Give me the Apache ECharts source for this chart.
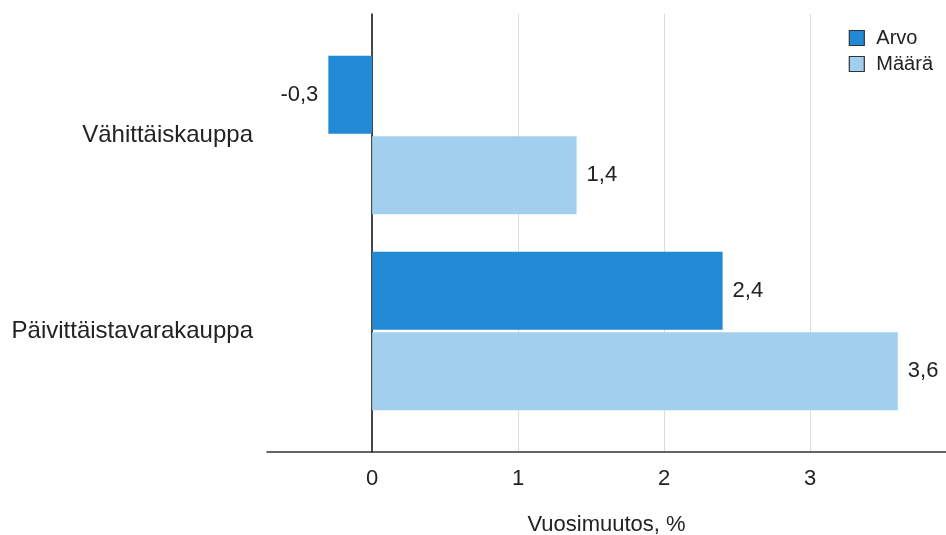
<!DOCTYPE html>
<html>
<head>
<meta charset="utf-8">
<script src="https://cdn.jsdelivr.net/npm/echarts@6/dist/echarts.min.js"></script>
<style>
html,body{margin:0;padding:0;background:#fff;}
#chart{width:946px;height:535px;}
</style>
</head>
<body>
<div id="chart"></div>
<script>
const categories = ['Vähittäiskauppa', 'Päivittäistavarakauppa'];
const seriesNames = ['Arvo', 'Määrä'];
const arvo = [-0.3, 2.4];
const maara = [1.4, 3.6];
const xTickValues = [0, 1, 2, 3];
const axisTitle = 'Vuosimuutos, %';

const FONT = 'Liberation Sans, Arial, sans-serif';
const X_MIN = -0.72, X_MAX = 3.93;
const colors = ['#228ad4', '#a3cfee'];

function fmt(v) { return v.toFixed(1).replace('.', ','); }
function mkData(arr) {
  return arr.map(v => ({ value: v, label: { position: v < 0 ? 'left' : 'right' } }));
}

const chart = echarts.init(document.getElementById('chart'), null, { renderer: 'canvas' });
chart.setOption({
  animation: false,
  backgroundColor: '#fff',
  textStyle: { fontFamily: FONT },
  legend: {
    data: seriesNames,
    orient: 'vertical',
    right: 13,
    top: 28,
    padding: 0,
    itemWidth: 15,
    itemHeight: 15,
    itemGap: 6,
    icon: 'rect',
    itemStyle: { borderColor: '#333', borderWidth: 1.2 },
    textStyle: { fontSize: 20, color: '#222', fontFamily: FONT, padding: [0, 0, 0, 7] }
  },
  grid: [
    { left: 267, right: 0, top: 14, bottom: 83, containLabel: false, outerBoundsMode: 'none' },
    { left: 267, right: 0, top: 37, bottom: 106, containLabel: false, outerBoundsMode: 'none' }
  ],
  xAxis: [
    {
      gridIndex: 0,
      type: 'value',
      min: X_MIN,
      max: X_MAX,
      name: axisTitle,
      nameLocation: 'middle',
      nameGap: 62,
      nameTextStyle: { fontSize: 22, color: '#222', fontFamily: FONT },
      axisLine: { show: true, onZero: false, lineStyle: { color: '#333', width: 1.5 } },
      axisTick: { show: false },
      axisLabel: {
        fontSize: 22, color: '#222', fontFamily: FONT, margin: 16,
        showMinLabel: false, showMaxLabel: false,
        formatter: v => (xTickValues.some(t => Math.abs(t - v) < 1e-6) ? String(Math.round(v)) : '')
      },
      splitLine: { show: true, showMinLine: false, showMaxLine: false, lineStyle: { color: '#dcdcdc', width: 1 } }
    },
    {
      gridIndex: 1,
      type: 'value',
      min: X_MIN,
      max: X_MAX,
      show: false
    }
  ],
  yAxis: [
    {
      gridIndex: 0,
      type: 'category',
      data: categories,
      axisLine: { show: true, onZero: true, lineStyle: { color: '#111', width: 1.5 } },
      axisTick: { show: false },
      axisLabel: { show: false },
      splitLine: { show: false }
    },
    {
      gridIndex: 1,
      type: 'category',
      inverse: true,
      data: categories,
      axisLine: { show: false, onZero: false },
      axisTick: { show: false },
      axisLabel: { fontSize: 24, color: '#222', fontFamily: FONT, margin: 14 },
      splitLine: { show: false }
    }
  ],
  series: [
    {
      name: seriesNames[0], type: 'bar', xAxisIndex: 1, yAxisIndex: 1,
      data: mkData(arvo), barWidth: 78, barGap: '3%',
      itemStyle: { color: colors[0] },
      label: { show: true, distance: 10, fontSize: 22, color: '#222', fontFamily: FONT, formatter: p => fmt(p.value) }
    },
    {
      name: seriesNames[1], type: 'bar', xAxisIndex: 1, yAxisIndex: 1,
      data: mkData(maara), barWidth: 78, barGap: '3%',
      itemStyle: { color: colors[1] },
      label: { show: true, distance: 10, fontSize: 22, color: '#222', fontFamily: FONT, formatter: p => fmt(p.value) }
    }
  ]
});
</script>
</body>
</html>
